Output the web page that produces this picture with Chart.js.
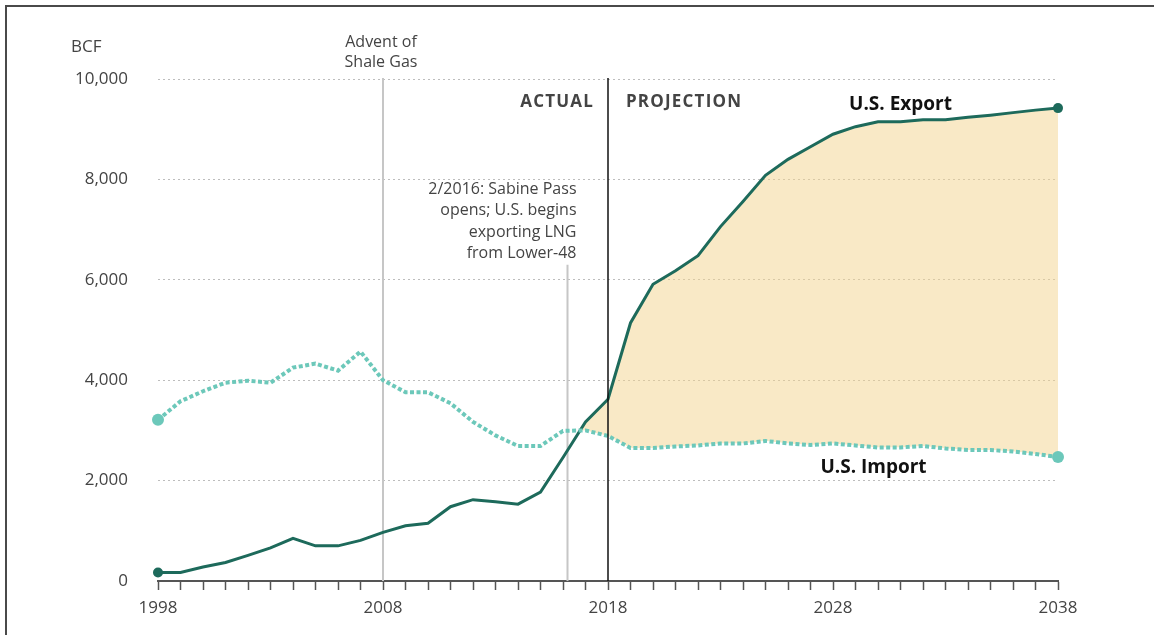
<!DOCTYPE html>
<html>
<head>
<meta charset="utf-8">
<script src="https://cdn.jsdelivr.net/npm/chart.js@4.4.1/dist/chart.umd.min.js"></script>
<style>
  html, body { margin: 0; padding: 0; background: #fff; }
  #wrap { position: relative; width: 1154px; height: 635px; overflow: hidden; }
  #frame { position: absolute; left: 5px; top: 5px; right: -10px; bottom: -10px;
           border-left: 2px solid #4a4a4a; border-top: 2px solid #4a4a4a; pointer-events: none; }
</style>
</head>
<body>
<div id="wrap"><canvas id="c"></canvas><div id="frame"></div></div>
<script>
// years 1998 - 2038, actual up to 2018, projection after
const years = [1998, 1999, 2000, 2001, 2002, 2003, 2004, 2005, 2006, 2007,
    2008, 2009, 2010, 2011, 2012, 2013, 2014, 2015, 2016, 2017,
    2018, 2019, 2020, 2021, 2022, 2023, 2024, 2025, 2026, 2027,
    2028, 2029, 2030, 2031, 2032, 2033, 2034, 2035, 2036, 2037, 2038];

const exportBcf = [170, 170, 280, 370, 510, 660, 850, 700, 700, 810,
    970, 1100, 1150, 1480, 1620, 1580, 1530, 1770, 2460, 3170,
    3620, 5140, 5910, 6180, 6480, 7060, 7560, 8080, 8400, 8650,
    8900, 9050, 9150, 9150, 9190, 9190, 9240, 9280, 9330, 9380, 9420];

const importBcf = [3210, 3580, 3780, 3950, 3990, 3950, 4250, 4330, 4190, 4570,
    4000, 3760, 3760, 3540, 3170, 2900, 2690, 2690, 2990, 3000,
    2890, 2650, 2650, 2680, 2700, 2740, 2740, 2790, 2740, 2710,
    2740, 2700, 2660, 2660, 2690, 2640, 2610, 2610, 2580, 2530, 2470];

const yTicks = [0, 2000, 4000, 6000, 8000, 10000];
const xLabels = [1998, 2008, 2018, 2028, 2038];

const FONT = "'Open Sans', 'Noto Sans', sans-serif";
const TEXT = '#444';

const endDot = (r) => (ctx) => (ctx.dataIndex === 0 || ctx.dataIndex === years.length - 1) ? r : 0;

const notes = {
    id: 'notes',
    beforeDatasetsDraw(chart) {
        const {ctx, scales: {x, y}} = chart;
        ctx.save();
        ctx.strokeStyle = '#c6c6c6';
        ctx.lineWidth = 2;
        ctx.beginPath();
        ctx.moveTo(x.getPixelForValue(2008), y.getPixelForValue(10000) - 1);
        ctx.lineTo(x.getPixelForValue(2008), y.bottom);
        ctx.moveTo(x.getPixelForValue(2016.2), y.getPixelForValue(6300));
        ctx.lineTo(x.getPixelForValue(2016.2), y.bottom);
        ctx.stroke();
        ctx.restore();
    },
    afterDatasetsDraw(chart) {
        const {ctx, scales: {x, y}} = chart;
        const x18 = x.getPixelForValue(2018);
        ctx.save();
        ctx.strokeStyle = '#111';
        ctx.lineWidth = 1.5;
        ctx.beginPath();
        ctx.moveTo(x18, y.getPixelForValue(10000) - 1);
        ctx.lineTo(x18, y.bottom);
        ctx.stroke();

        ctx.textBaseline = 'middle';
        ctx.fillStyle = TEXT;

        // axis unit
        ctx.font = `17px ${FONT}`;
        ctx.textAlign = 'left';
        ctx.fillText('BCF', 71, y.top - 32);

        // shale gas note
        ctx.font = `16px ${FONT}`;
        ctx.textAlign = 'center';
        const x08 = x.getPixelForValue(2008) - 2;
        ctx.fillText('Advent of', x08, 42);
        ctx.fillText('Shale Gas', x08, 62);

        // sabine pass note
        ctx.textAlign = 'right';
        const sabine = ['2/2016: Sabine Pass', 'opens; U.S. begins', 'exporting LNG', 'from Lower-48'];
        const xs = x.getPixelForValue(2016.2) + 9;
        sabine.forEach((t, i) => ctx.fillText(t, xs, 189 + i * 21.5));

        // actual / projection
        ctx.font = `bold 17px ${FONT}`;
        ctx.letterSpacing = '1.2px';
        ctx.textAlign = 'right';
        ctx.fillText('ACTUAL', x18 - 14, 102);
        ctx.textAlign = 'left';
        ctx.fillText('PROJECTION', x18 + 18, 102);
        ctx.letterSpacing = '0px';

        // series labels
        ctx.font = `bold 19px ${FONT}`;
        ctx.fillStyle = '#111';
        ctx.textAlign = 'center';
        ctx.fillText('U.S. Export', x.getPixelForValue(2031), y.getPixelForValue(9500));
        ctx.fillText('U.S. Import', x.getPixelForValue(2029.8), y.getPixelForValue(2250));
        ctx.restore();
    }
};

new Chart(document.getElementById('c'), {
    type: 'line',
    data: {
        datasets: [
            {
                label: 'U.S. Export',
                data: years.map((yr, i) => ({x: yr, y: exportBcf[i]})),
                borderColor: '#1d6a5b',
                backgroundColor: '#1d6a5b',
                borderWidth: 3,
                pointRadius: endDot(5),
                pointBorderWidth: 0,
                fill: {target: 1, above: 'rgba(244,212,142,0.5)', below: 'rgba(0,0,0,0)'},
                clip: false,
                order: 1,
            },
            {
                label: 'U.S. Import',
                data: years.map((yr, i) => ({x: yr, y: importBcf[i]})),
                borderColor: '#6cc8ba',
                backgroundColor: '#6cc8ba',
                borderWidth: 4,
                borderDash: [4, 2.5],
                borderCapStyle: 'butt',
                pointRadius: endDot(6),
                pointBorderWidth: 0,
                fill: false,
                clip: false,
                order: 0,
            },
        ],
    },
    options: {
        responsive: true,
        maintainAspectRatio: false,
        animation: false,
        layout: {padding: {left: 0, top: 79, right: 96, bottom: 0}},
        plugins: {
            legend: {display: false},
            tooltip: {enabled: false},
        },
        scales: {
            x: {
                type: 'linear',
                min: 1998,
                max: 2038,
                afterFit: (s) => { s.height = 54; },
                ticks: {
                    stepSize: 1,
                    autoSkip: false,
                    maxRotation: 0,
                    padding: 8,
                    color: TEXT,
                    font: {family: FONT, size: 17},
                    callback: (v) => xLabels.includes(v) ? String(v) : '',
                },
                grid: {
                    drawOnChartArea: false,
                    drawTicks: true,
                    tickLength: 9,
                    tickColor: '#555',
                    tickWidth: 1.5,
                },
                border: {display: true, color: '#555', width: 2},
            },
            y: {
                min: 0,
                max: 10000,
                afterFit: (s) => { s.width = 158; },
                afterBuildTicks: (s) => { s.ticks = yTicks.map((v) => ({value: v})); },
                ticks: {
                    padding: 30,
                    color: TEXT,
                    font: {family: FONT, size: 17},
                    callback: (v) => v.toLocaleString('en-US'),
                },
                grid: {
                    drawTicks: false,
                    lineWidth: 1,
                    color: (ctx) => ctx.tick && ctx.tick.value === 0 ? 'rgba(0,0,0,0)' : '#bdbdbd',
                },
                border: {display: false, dash: [2, 3]},
            },
        },
    },
    plugins: [notes],
});
</script>
</body>
</html>
